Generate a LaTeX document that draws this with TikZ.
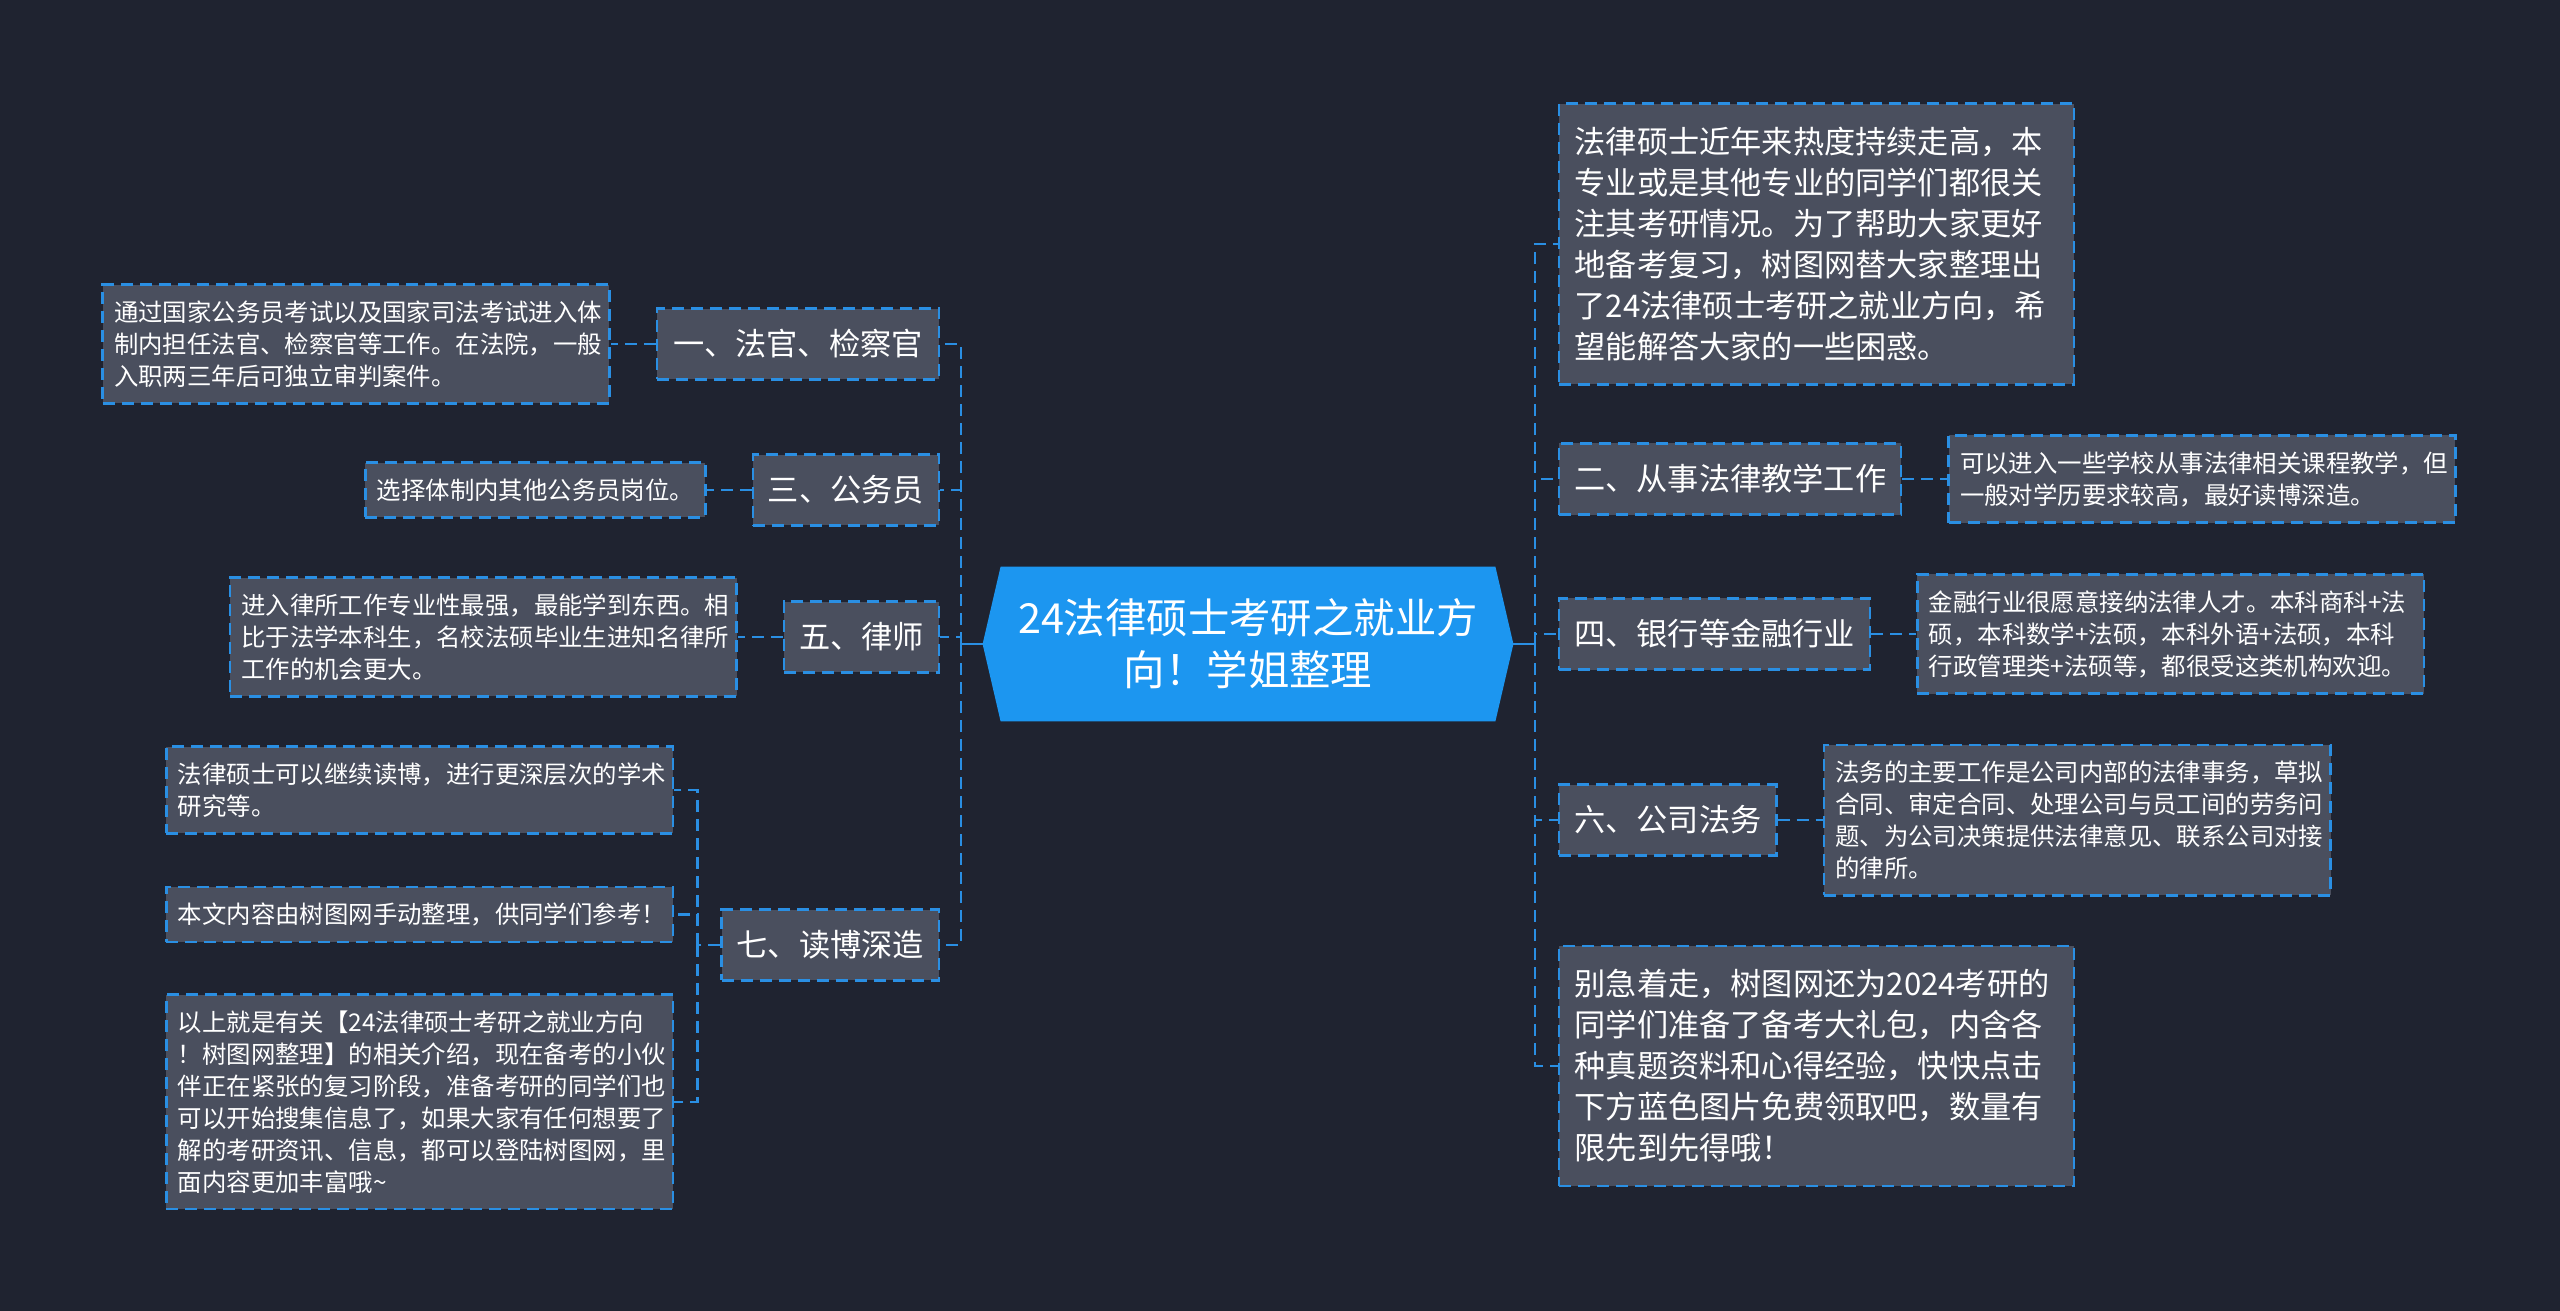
\documentclass[tikz,border=0pt]{standalone}
\usepackage{fontspec}
\setmainfont{Noto Sans CJK SC}
\usetikzlibrary{positioning, backgrounds}
\definecolor{bgdark}{HTML}{1F2330}
\definecolor{boxgray}{HTML}{4A4F5E}
\definecolor{linkblue}{HTML}{2A8FE3}
\definecolor{hubblue}{HTML}{1C96F0}

\begin{document}
\begin{tikzpicture}[x=0.5pt, y=-0.5pt, node distance=22.5pt,
  root/.style={minimum width=247pt, minimum height=77pt, inner sep=0pt,
               align=center, text=white, font=\fontsize{20.7}{26}\selectfont},
  branch/.style={draw=linkblue, fill=boxgray, dash pattern=on 6pt off 3.5pt,
                 line width=1.2pt, text=white, inner xsep=7.5pt, inner ysep=10.5pt,
                 font=\fontsize{15.6}{20.5}\selectfont},
  note/.style={draw=linkblue, fill=boxgray, dash pattern=on 6pt off 3.5pt,
               line width=1.2pt, text=white, align=left, inner xsep=5.7pt,
               inner ysep=8pt, font=\fontsize{12.2}{16}\selectfont},
  leaf/.style={note, text width=242pt},
  bigleaf/.style={note, text width=242pt, inner xsep=7.75pt, inner ysep=11.75pt,
                  font=\fontsize{15.6}{20.5}\selectfont},
  link/.style={draw=linkblue, line width=1.2pt, dash pattern=on 6pt off 3.5pt}]
  \node[root] (root) at (1248,644) {24法律硕士考研之就业方\\向！学姐整理};

  % left branches
  \node[branch, anchor=east, minimum width=141pt] (b1) at (940,344) {一、法官、检察官};
  \node[branch, anchor=east] (b3) at (940,490) {三、公务员};
  \node[branch, anchor=east] (b5) at (940,637) {五、律师};
  \node[branch, anchor=east] (b7) at (940,945) {七、读博深造};
  \node[leaf, left=of b1] (l1) {通过国家公务员考试以及国家司法考试进入体\\制内担任法官、检察官等工作。在法院，一般\\入职两三年后可独立审判案件。};
  \node[note, left=of b3] (l3) {选择体制内其他公务员岗位。};
  \node[leaf, left=of b5] (l5) {进入律所工作专业性最强，最能学到东西。相\\比于法学本科生，名校法硕毕业生进知名律所\\工作的机会更大。};
  \node[leaf, left=23pt of b7, yshift=15.25pt] (l7b) {本文内容由树图网手动整理，供同学们参考！};
  \node[leaf, above=25.5pt of l7b.north east, anchor=south east] (l7a) {法律硕士可以继续读博，进行更深层次的学术\\研究等。};
  \node[leaf, below=25pt of l7b.south east, anchor=north east] (l7c) {以上就是有关【24法律硕士考研之就业方向\\！树图网整理】的相关介绍，现在备考的小伙\\伴正在紧张的复习阶段，准备考研的同学们也\\可以开始搜集信息了，如果大家有任何想要了\\解的考研资讯、信息，都可以登陆树图网，里\\面内容更加丰富哦\textasciitilde};

  % right branches
  \node[bigleaf, anchor=west] (r0) at (1558,244) {法律硕士近年来热度持续走高，本\\专业或是其他专业的同学们都很关\\注其考研情况。为了帮助大家更好\\地备考复习，树图网替大家整理出\\了24法律硕士考研之就业方向，希\\望能解答大家的一些困惑。};
  \node[branch, anchor=west] (b2) at (1558,479) {二、从事法律教学工作};
  \node[branch, anchor=west] (b4) at (1558,634) {四、银行等金融行业};
  \node[branch, anchor=west] (b6) at (1558,820) {六、公司法务};
  \node[bigleaf, anchor=west] (r8) at (1558,1066) {别急着走，树图网还为2024考研的\\同学们准备了备考大礼包，内含各\\种真题资料和心得经验，快快点击\\下方蓝色图片免费领取吧，数量有\\限先到先得哦！};
  \node[leaf, right=of b2] (l2) {可以进入一些学校从事法律相关课程教学，但\\一般对学历要求较高，最好读博深造。};
  \node[leaf, right=of b4] (l4) {金融行业很愿意接纳法律人才。本科商科+法\\硕，本科数学+法硕，本科外语+法硕，本科\\行政管理类+法硕等，都很受这类机构欢迎。};
  \node[leaf, right=of b6] (l6) {法务的主要工作是公司内部的法律事务，草拟\\合同、审定合同、处理公司与员工间的劳务问\\题、为公司决策提供法律意见、联系公司对接\\的律所。};

  % connectors
  \coordinate (rootl) at ([xshift=-9pt]root.west);
  \coordinate (rootr) at ([xshift=9pt]root.east);
  \coordinate (lj) at (961,644);
  \coordinate (rj) at (1535,644);
  \coordinate (k7) at ([xshift=-11.5pt]b7.west);
  \draw[linkblue, line width=1.2pt] (rootl) -- (lj);
  \draw[linkblue, line width=1.2pt] (rootr) -- (rj);
  \foreach \n in {b1, b3, b5, b7}
    \draw[link] (lj) |- (\n.east);
  \foreach \n in {r0, b2, b4, b6, r8}
    \draw[link] (rj) |- (\n.west);
  \foreach \b/\l in {b1/l1, b3/l3, b5/l5}
    \draw[link] (\b.west) -- (\l.east);
  \foreach \b/\l in {b2/l2, b4/l4, b6/l6}
    \draw[link] (\b.east) -- (\l.west);
  \draw[link] (b7.west) -- (k7);
  \foreach \l in {l7a, l7b, l7c}
    \draw[link] (k7) |- (\l.east);

  \begin{scope}[on background layer]
    \fill[bgdark] (0,0) rectangle (2560,1311);
    \fill[hubblue] (rootl) -- (root.north west) -- (root.north east) -- (rootr)
      -- (root.south east) -- (root.south west) -- cycle;
  \end{scope}
\end{tikzpicture}
\end{document}
